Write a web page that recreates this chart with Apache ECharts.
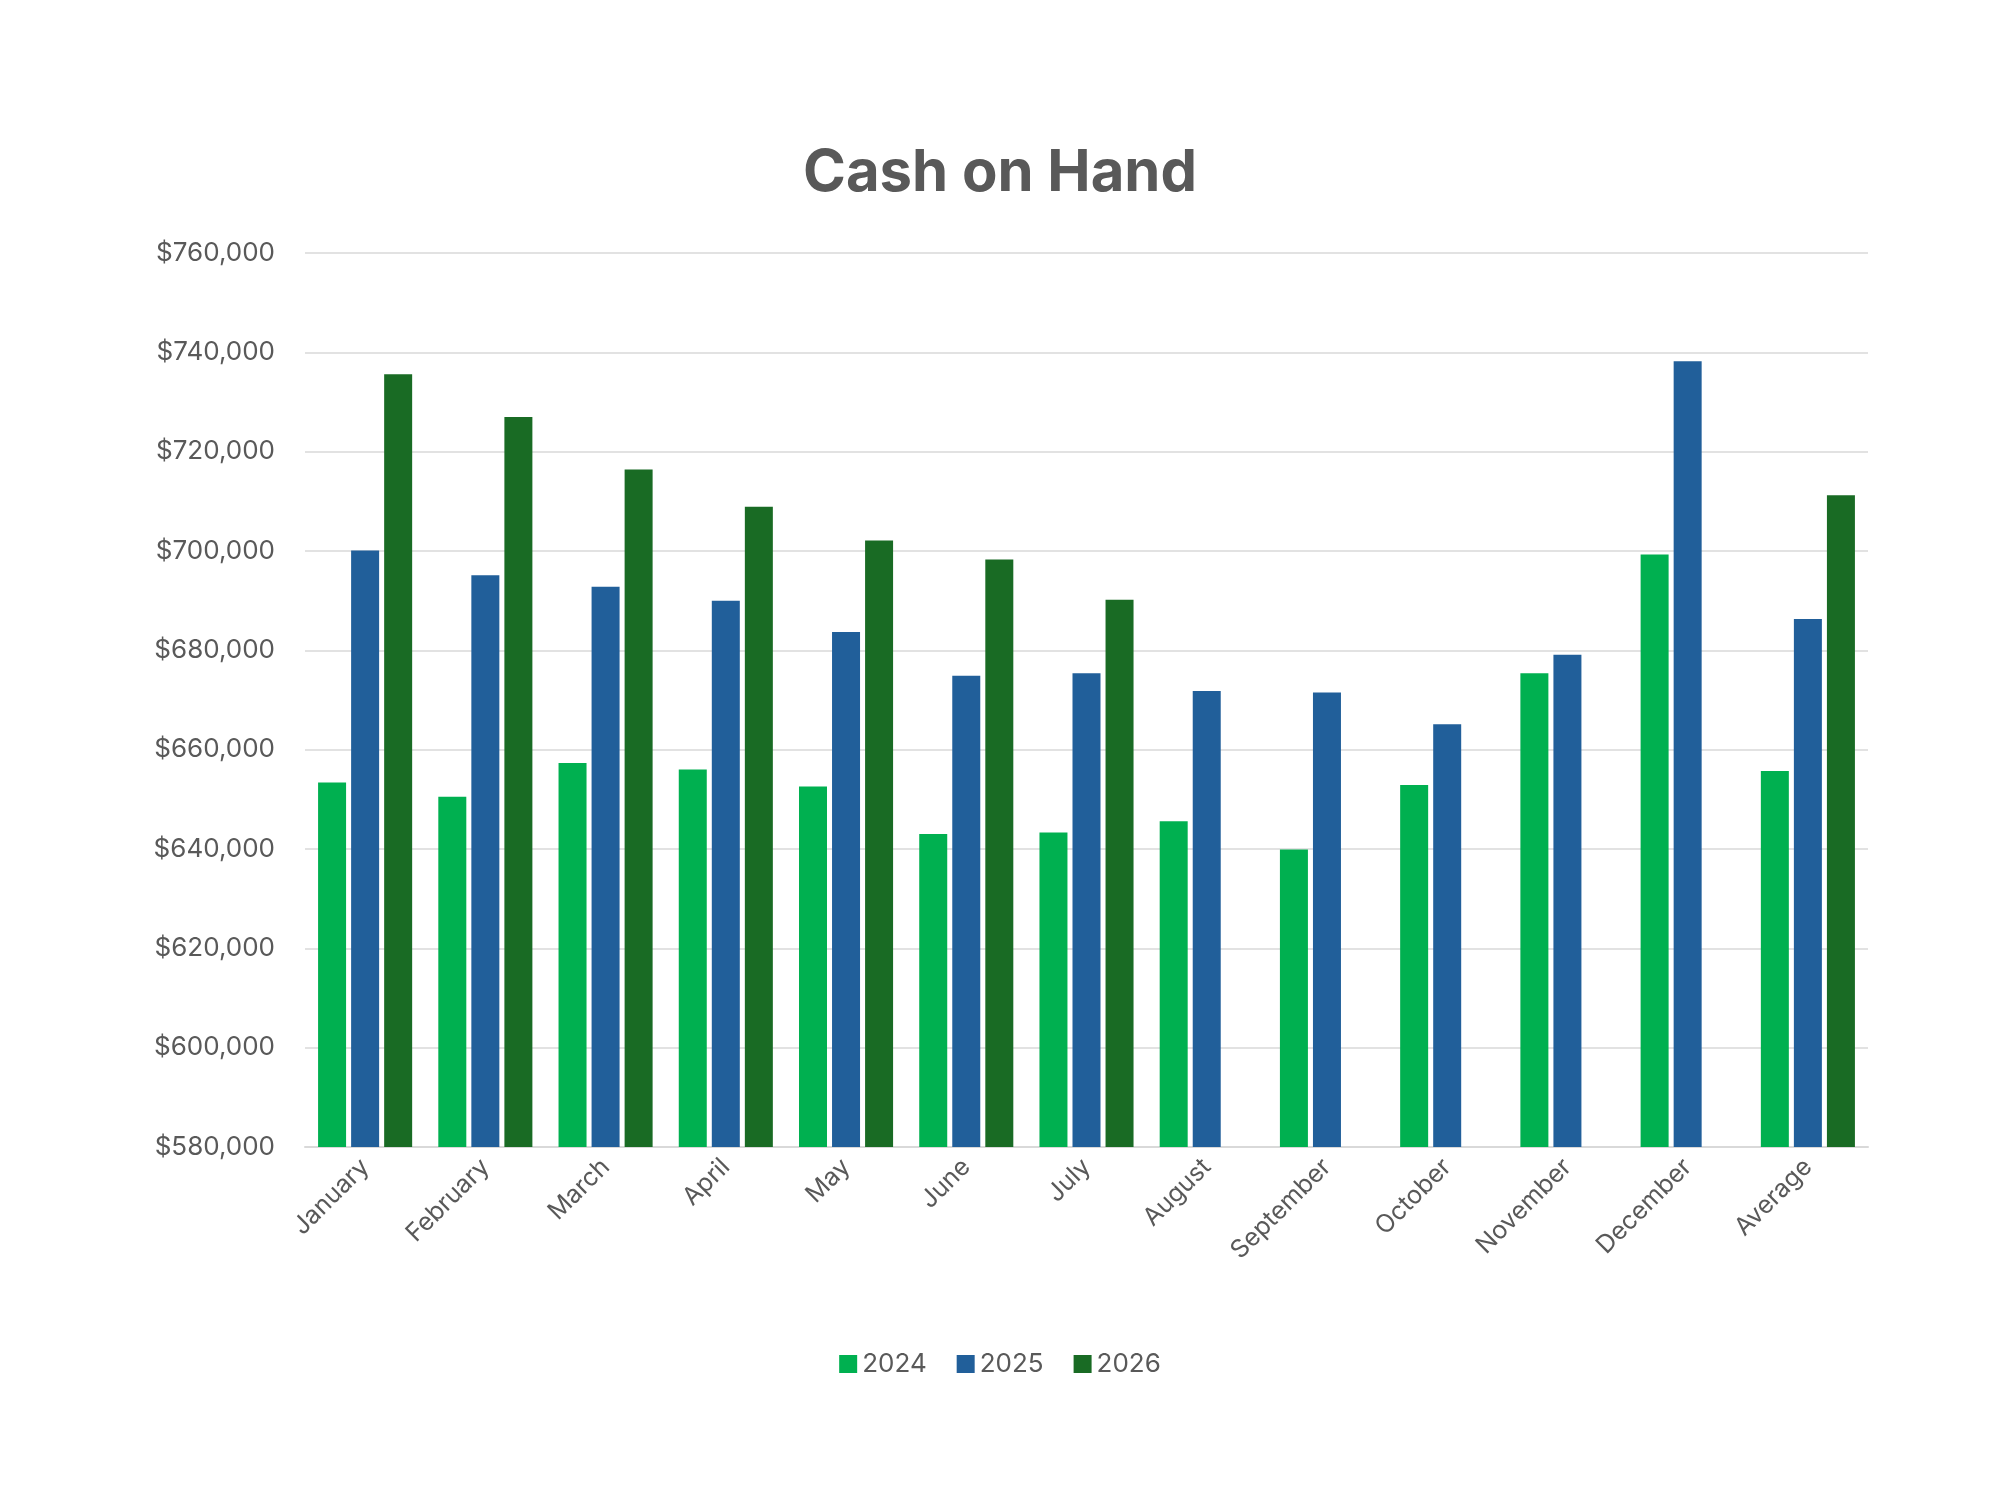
<!DOCTYPE html>
<html><head><meta charset="utf-8">
<script src="https://cdn.jsdelivr.net/npm/echarts@6/dist/echarts.min.js"></script>
<style>html,body{margin:0;background:#fff}#c{width:2000px;height:1500px}</style>
</head><body><div id="c"></div>
<script>
const categories = ["January","February","March","April","May","June","July","August","September","October","November","December","Average"];
const s2024 = [653400,650500,657300,656000,652600,643000,643300,645600,639900,652900,675400,699300,655700];
const s2025 = [700100,695100,692800,690000,683700,674900,675400,671800,671500,665100,679100,738200,686300];
const s2026 = [735600,727000,716400,708900,702100,698300,690200,null,null,null,null,null,711200];
const chart = echarts.init(document.getElementById('c'));
const fnt = 'Inter, "Open Sans", sans-serif';
chart.setOption({
  animation:false,
  title:{text:'Cash on Hand',left:'center',top:140,textStyle:{fontSize:58,fontWeight:'bold',color:'#595959',fontFamily:fnt}},
  legend:{bottom:118,left:'center',itemWidth:18,itemHeight:18,itemGap:30,icon:'rect',textStyle:{fontSize:26,color:'#595959',fontFamily:fnt}},
  grid:{left:305,right:132,top:253,bottom:353},
  xAxis:{type:'category',data:categories,axisLine:{lineStyle:{color:'#d9d9d9',width:2}},axisTick:{show:false},
    axisLabel:{rotate:45,fontSize:25,color:'#595959',fontFamily:fnt,margin:16}},
  yAxis:{type:'value',min:580000,max:760000,interval:20000,
    axisLabel:{fontSize:26,color:'#595959',fontFamily:fnt,margin:30,formatter:v=>'$'+v.toLocaleString('en-US')},
    splitLine:{lineStyle:{color:'#d9d9d9',width:1.5}}},
  series:[
    {name:'2024',type:'bar',data:s2024,itemStyle:{color:'#00B050'},barWidth:28,barGap:'18%'},
    {name:'2025',type:'bar',data:s2025,itemStyle:{color:'#215F9A'},barWidth:28,barGap:'18%'},
    {name:'2026',type:'bar',data:s2026,itemStyle:{color:'#196B24'},barWidth:28,barGap:'18%'}
  ]
});
</script></body></html>
